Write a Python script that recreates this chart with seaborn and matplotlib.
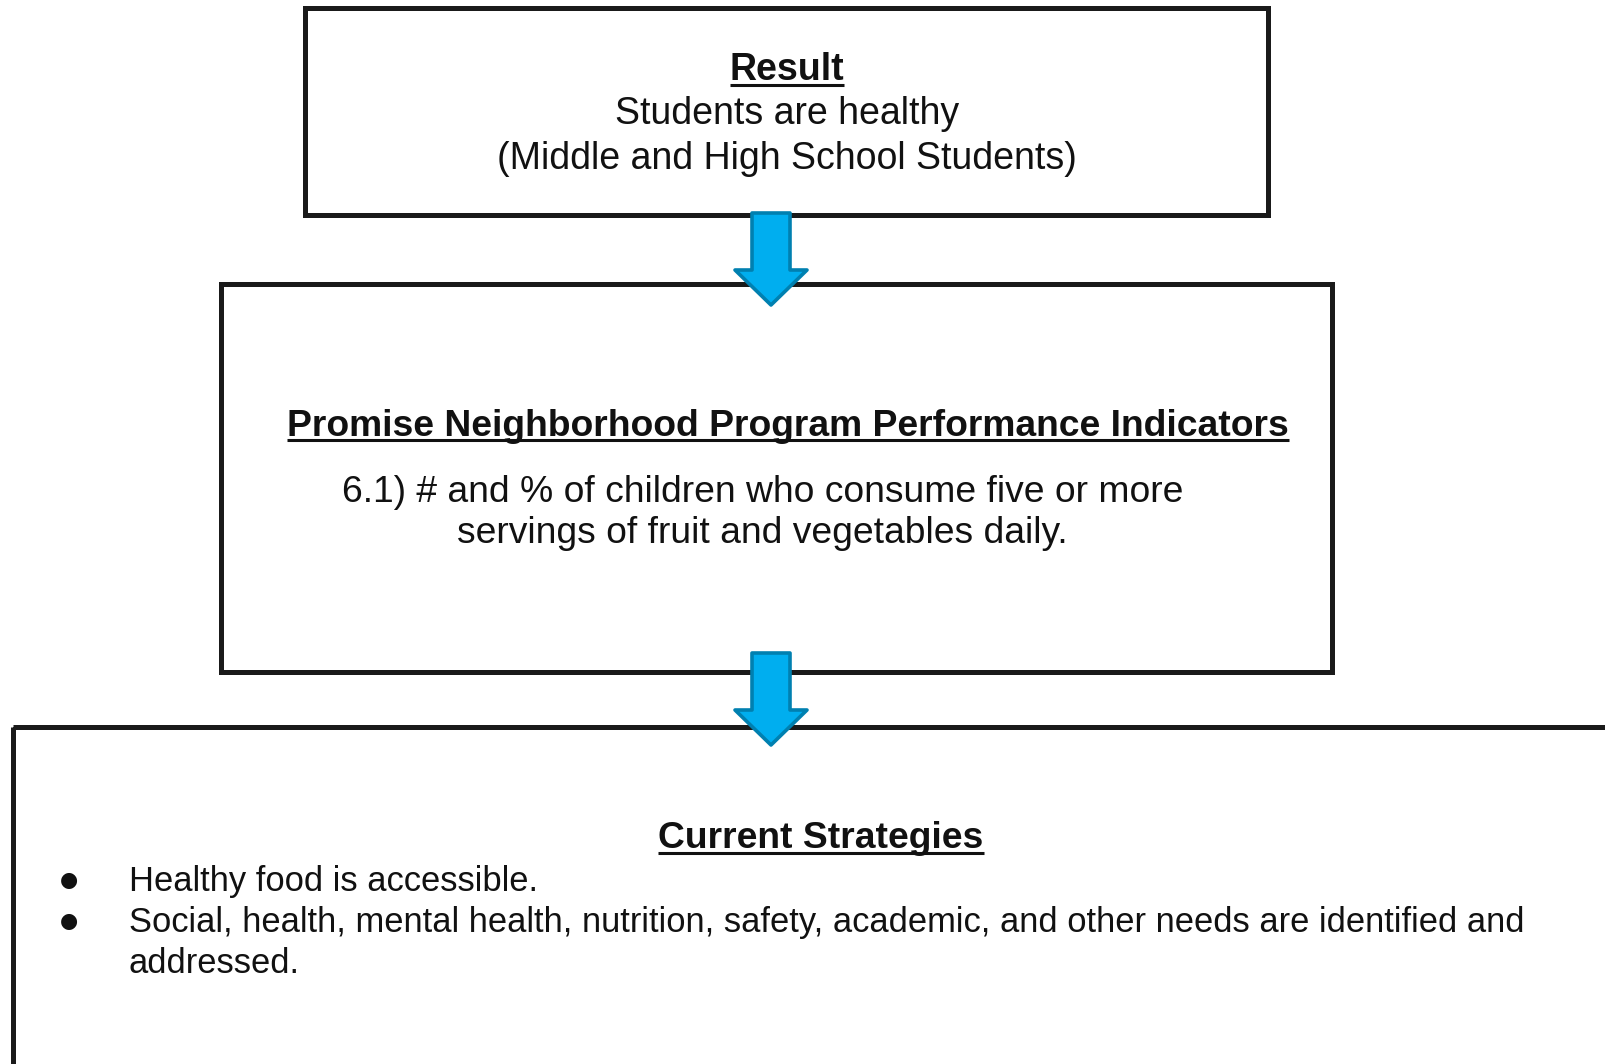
import matplotlib
matplotlib.use("Agg")
import matplotlib.pyplot as plt
import seaborn as sns
from matplotlib.patches import Rectangle, Polygon

# ---- content ----
result_title = "Result"
result_lines = ["Students are healthy", "(Middle and High School Students)"]
indicator_title = "Promise Neighborhood Program Performance Indicators"
indicator_lines = ["6.1) # and % of children who consume five or more",
                   "servings of fruit and vegetables daily."]
strategy_title = "Current Strategies"
strategy_bullets = ["Healthy food is accessible.",
                    "Social, health, mental health, nutrition, safety, academic, and other needs are identified and",
                    "addressed."]
bullet_marks = [True, True, False]

sns.set_theme(style="white")
plt.rcParams['font.family'] = ['Liberation Sans', 'DejaVu Sans']

W, H = 1606, 1064
fig = plt.figure(figsize=(W / 100, H / 100), dpi=100)
ax = fig.add_axes([0, 0, 1, 1])
ax.set_xlim(0, W)
ax.set_ylim(H, 0)
ax.axis("off")

EDGE = "#1a1a1a"
LW = 3.6
FS = 27
FS_B = 24.85

# boxes
ax.add_patch(Rectangle((305, 7.5), 963, 207.5, fill=False, ec=EDGE, lw=LW, joinstyle="miter"))
ax.add_patch(Rectangle((221, 284), 1111.5, 388, fill=False, ec=EDGE, lw=LW, joinstyle="miter"))
ax.add_patch(Rectangle((13.5, 727), 1800, 600, fill=False, ec=EDGE, lw=LW, joinstyle="miter"))

# arrows
def down_arrow(top, xc=771):
    pts = [(xc - 19, top), (xc + 19, top), (xc + 19, top + 57), (xc + 36, top + 57),
           (xc, top + 92), (xc - 36, top + 57), (xc - 19, top + 57)]
    ax.add_patch(Polygon(pts, closed=True, fc="#00AEEF", ec="#0080B0", lw=2.6,
                         joinstyle="round", zorder=5))

down_arrow(213)
down_arrow(653)

texts_to_underline = []

t = ax.text(787, 80.5, result_title, ha="center", va="baseline", fontsize=FS, fontweight="bold", color="#111111")
texts_to_underline.append(t)
for i, line in enumerate(result_lines):
    ax.text(787, 124.5 + 44.5 * i, line, ha="center", va="baseline", fontsize=FS, color="#111111")

t = ax.text(788, 435.5, indicator_title, ha="center", va="baseline", fontsize=26.8, fontweight="bold", color="#111111")
texts_to_underline.append(t)
for i, line in enumerate(indicator_lines):
    ax.text(762.5, 502.5 + 40.5 * i, line, ha="center", va="baseline", fontsize=26.8, color="#111111")

t = ax.text(821, 848, strategy_title, ha="center", va="baseline", fontsize=26.8, fontweight="bold", color="#111111")
texts_to_underline.append(t)
for i, (line, mark) in enumerate(zip(strategy_bullets, bullet_marks)):
    y = 891 + 41 * i
    if mark:
        ax.text(69, y - 11, "\u25CF", ha="center", va="center", fontsize=15,
                family=["DejaVu Sans"], color="#111111")
    ax.text(129, y, line, ha="left", va="baseline", fontsize=FS_B, color="#111111")

fig.canvas.draw()
renderer = fig.canvas.get_renderer()
inv = ax.transData.inverted()
for t in texts_to_underline:
    bb = t.get_window_extent(renderer)
    x0, _ = inv.transform((bb.x0, 0))
    x1, _ = inv.transform((bb.x1, 0))
    yb = t.get_position()[1] + 4.5
    ax.plot([x0, x1], [yb, yb], color="#111111", lw=2.2, solid_capstyle="butt")

fig.savefig("out.png", dpi=100, facecolor="white")
